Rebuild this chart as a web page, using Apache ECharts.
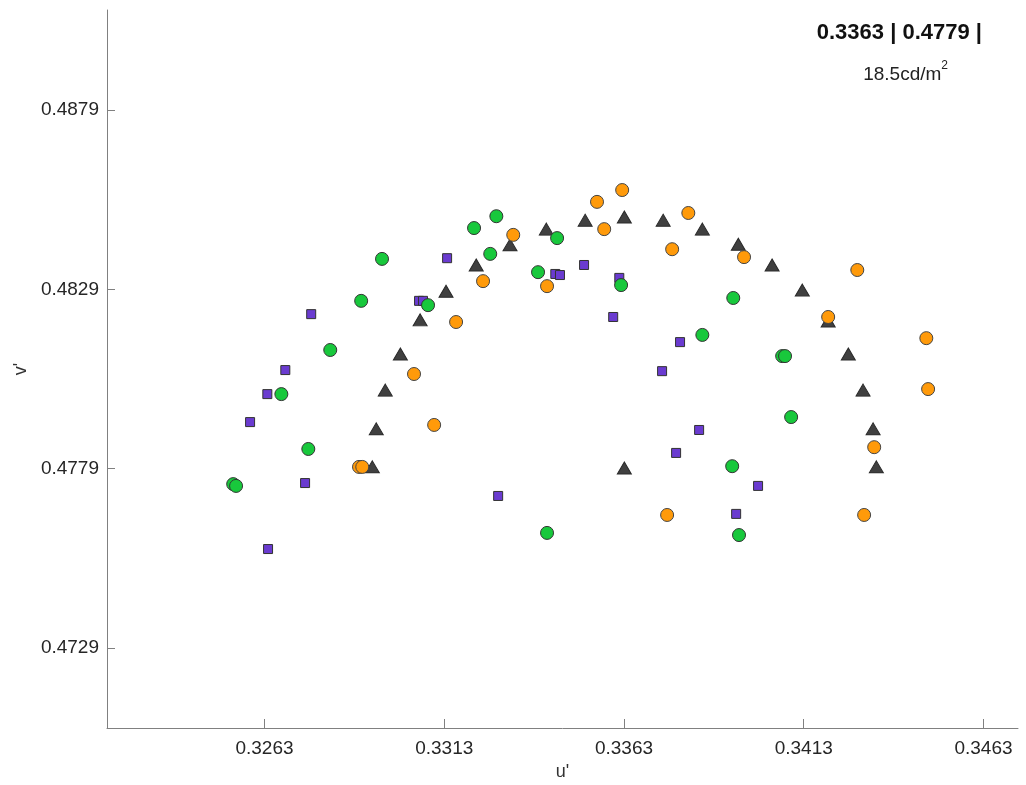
<!DOCTYPE html>
<html>
<head>
<meta charset="utf-8">
<script src="https://cdn.jsdelivr.net/npm/echarts@6/dist/echarts.min.js"></script>
<style>
  html, body { margin: 0; padding: 0; background: #fff; }
  #chart { width: 1026px; height: 785px; }
</style>
</head>
<body>
<div id="chart"></div>
<script>
// tick labels
const uTicks = [0.3263, 0.3313, 0.3363, 0.3413, 0.3463];
const vTicks = [0.4729, 0.4779, 0.4829, 0.4879];

// purple squares [u', v']
const squares = [
  [0.32760, 0.48221], [0.32688, 0.48065], [0.32638, 0.47998], [0.32590, 0.47920],
  [0.32743, 0.47750], [0.32640, 0.47566], [0.33060, 0.48258], [0.33071, 0.48258],
  [0.33138, 0.48377], [0.33280, 0.47714], [0.33439, 0.48333], [0.33452, 0.48330],
  [0.33519, 0.48358], [0.33600, 0.48213], [0.33617, 0.48322], [0.33736, 0.48062],
  [0.33786, 0.48143], [0.33775, 0.47834], [0.33839, 0.47898], [0.33942, 0.47664],
  [0.34003, 0.47742]
];
// dark triangles
const triangles = [
  [0.32930, 0.47795], [0.32941, 0.47901], [0.32966, 0.48009], [0.33008, 0.48110],
  [0.33063, 0.48205], [0.33135, 0.48285], [0.33219, 0.48358], [0.33313, 0.48414],
  [0.33414, 0.48458], [0.33522, 0.48483], [0.33631, 0.48492], [0.33739, 0.48483],
  [0.33848, 0.48458], [0.33948, 0.48416], [0.34042, 0.48358], [0.34126, 0.48288],
  [0.34198, 0.48202], [0.34254, 0.48110], [0.34295, 0.48009], [0.34323, 0.47901],
  [0.34332, 0.47795], [0.33631, 0.47792]
];
// green circles
const greens = [
  [0.32543, 0.47747], [0.32551, 0.47742], [0.32677, 0.47998], [0.32752, 0.47845],
  [0.32813, 0.48121], [0.32899, 0.48258], [0.32957, 0.48375], [0.33085, 0.48246],
  [0.33213, 0.48461], [0.33258, 0.48389], [0.33275, 0.48494], [0.33391, 0.48338],
  [0.33444, 0.48433], [0.33416, 0.47611], [0.33622, 0.48302], [0.33848, 0.48163],
  [0.33934, 0.48266], [0.33931, 0.47797], [0.33950, 0.47605], [0.34070, 0.48104],
  [0.34078, 0.48104], [0.34095, 0.47934]
];
// orange circles
const oranges = [
  [0.32893, 0.47795], [0.32902, 0.47795], [0.33046, 0.48054], [0.33102, 0.47912],
  [0.33163, 0.48199], [0.33238, 0.48313], [0.33322, 0.48442], [0.33416, 0.48299],
  [0.33555, 0.48534], [0.33575, 0.48458], [0.33625, 0.48567], [0.33764, 0.48402],
  [0.33809, 0.48503], [0.33964, 0.48380], [0.33750, 0.47661], [0.34198, 0.48213],
  [0.34279, 0.48344], [0.34471, 0.48154], [0.34476, 0.48012], [0.34326, 0.47850],
  [0.34298, 0.47661]
];

const fontFamily = 'Liberation Sans, Arial, sans-serif';

let chart = echarts.init(document.getElementById('chart'));
chart.setOption({
  animation: false,
  grid: { left: 107, right: 8, top: 10, bottom: 57, outerBoundsMode: 'none', containLabel: false },
  xAxis: {
    type: 'value',
    min: 0.32192,
    max: 0.34726,
    name: "u'",
    nameLocation: 'middle',
    nameGap: 34,
    nameTextStyle: { color: '#333', fontSize: 18, fontFamily: fontFamily },
    axisLine: { show: true, lineStyle: { color: '#808080', width: 1 } },
    axisTick: { show: true, inside: true, length: 9, customValues: uTicks, lineStyle: { color: '#808080' } },
    axisLabel: {
      customValues: uTicks, margin: 11, color: '#262626', fontSize: 19, fontFamily: fontFamily,
      formatter: v => v.toFixed(4)
    },
    splitLine: { show: false }
  },
  yAxis: {
    type: 'value',
    min: 0.47067,
    max: 0.49069,
    name: "v'",
    nameLocation: 'middle',
    nameGap: 72,
    nameRotate: 90,
    nameTextStyle: { color: '#333', fontSize: 18, fontFamily: fontFamily },
    axisLine: { show: true, lineStyle: { color: '#808080', width: 1 } },
    axisTick: { show: true, inside: true, length: 8, customValues: vTicks, lineStyle: { color: '#808080' } },
    axisLabel: {
      customValues: vTicks, margin: 8, color: '#262626', fontSize: 19, fontFamily: fontFamily,
      formatter: v => v.toFixed(4)
    },
    splitLine: { show: false }
  },
  graphic: [
    {
      type: 'text', right: 44, top: 22,
      style: { text: '0.3363 | 0.4779 |', font: 'bold 22px ' + fontFamily, fill: '#111' }
    },
    {
      type: 'text', right: 78, top: 60,
      style: {
        text: '{a|18.5cd/m}{s|2}',
        fill: '#222',
        rich: {
          a: { fontSize: 19, fontFamily: fontFamily, lineHeight: 24, verticalAlign: 'bottom', fill: '#222' },
          s: { fontSize: 12, fontFamily: fontFamily, lineHeight: 14, verticalAlign: 'top', fill: '#222' }
        }
      }
    }
  ],
  series: [
    {
      type: 'scatter', data: squares, symbol: 'rect', symbolSize: 9,
      itemStyle: { color: '#6a3bd0', borderColor: '#333', borderWidth: 1, opacity: 1 }
    },
    {
      type: 'scatter', data: triangles, symbol: 'triangle', symbolSize: [14, 12],
      itemStyle: { color: '#404040', borderColor: '#2a2a2a', borderWidth: 1, opacity: 1 }
    },
    {
      type: 'scatter', data: greens, symbol: 'circle', symbolSize: 13,
      itemStyle: { color: '#18c83c', borderColor: '#333', borderWidth: 1, opacity: 1 }
    },
    {
      type: 'scatter', data: oranges, symbol: 'circle', symbolSize: 13,
      itemStyle: { color: '#ff9a0a', borderColor: '#444', borderWidth: 1, opacity: 1 }
    }
  ]
});
</script>
</body>
</html>
